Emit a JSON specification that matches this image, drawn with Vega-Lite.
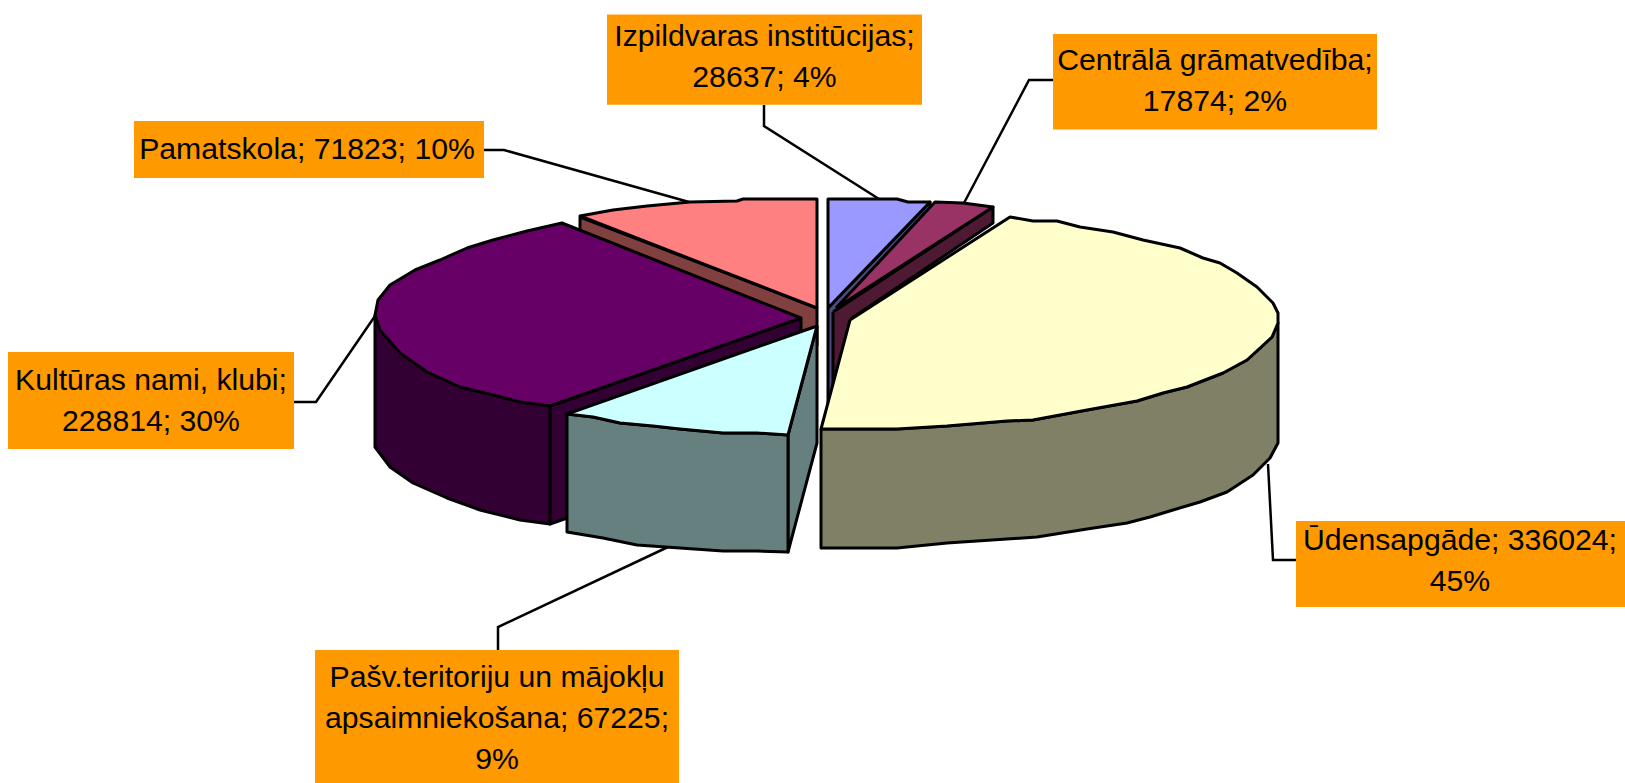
{"$schema":"https://vega.github.io/schema/vega-lite/v6.json","width":1625,"height":783,"padding":0,"autosize":{"type":"fit","contains":"padding"},"background":"white","view":{"stroke":null},
"datasets":{
"leaders":[
{"slice":"Izpildvaras institūcijas","o":1,"px":764,"py":105},{"slice":"Izpildvaras institūcijas","o":2,"px":764,"py":126},{"slice":"Izpildvaras institūcijas","o":3,"px":879,"py":199},
{"slice":"Centrālā grāmatvedība","o":1,"px":1053,"py":80},{"slice":"Centrālā grāmatvedība","o":2,"px":1029,"py":80},{"slice":"Centrālā grāmatvedība","o":3,"px":964,"py":203},
{"slice":"Pamatskola","o":1,"px":484,"py":150},{"slice":"Pamatskola","o":2,"px":504,"py":150},{"slice":"Pamatskola","o":3,"px":689,"py":202},
{"slice":"Kultūras nami, klubi","o":1,"px":294,"py":402},{"slice":"Kultūras nami, klubi","o":2,"px":316,"py":402},{"slice":"Kultūras nami, klubi","o":3,"px":375,"py":316},
{"slice":"Ūdensapgāde","o":1,"px":1296,"py":560},{"slice":"Ūdensapgāde","o":2,"px":1273,"py":560},{"slice":"Ūdensapgāde","o":3,"px":1268,"py":464},
{"slice":"Pašv.teritoriju","o":1,"px":498,"py":650},{"slice":"Pašv.teritoriju","o":2,"px":498,"py":627},{"slice":"Pašv.teritoriju","o":3,"px":668,"py":547}
],
"labels":[
{"label":"Izpildvaras institūcijas;\n28637; 4%","x0":607,"x1":922,"y0":14.5,"y1":104.7,"cx":764.5,"cy":37},
{"label":"Centrālā grāmatvedība;\n17874; 2%","x0":1053,"x1":1377,"y0":34,"y1":129.5,"cx":1215,"cy":61},
{"label":"Pamatskola; 71823; 10%","x0":134,"x1":484,"y0":121,"y1":178,"cx":307,"cy":150},
{"label":"Kultūras nami, klubi;\n228814; 30%","x0":8,"x1":294,"y0":352,"y1":449,"cx":151,"cy":381},
{"label":"Ūdensapgāde; 336024;\n45%","x0":1296,"x1":1625,"y0":521,"y1":607,"cx":1460,"cy":541},
{"label":"Pašv.teritoriju un mājokļu\napsaimniekošana; 67225;\n9%","x0":315,"x1":679,"y0":650,"y1":783,"cx":497,"cy":678}
],
"faces":[
{"face":"a brown","o":1,"px":580,"py":217},{"face":"a brown","o":2,"px":817,"py":308},{"face":"a brown","o":3,"px":817,"py":345},{"face":"a brown","o":4,"px":580,"py":254},{"face":"a brown","o":5,"px":580,"py":217},
{"face":"b pink","o":1,"px":817,"py":308},{"face":"b pink","o":2,"px":580,"py":216},{"face":"b pink","o":3,"px":613,"py":210},{"face":"b pink","o":4,"px":647,"py":206},{"face":"b pink","o":5,"px":690,"py":202},{"face":"b pink","o":6,"px":737,"py":201},{"face":"b pink","o":7,"px":743,"py":199},{"face":"b pink","o":8,"px":817,"py":199},{"face":"b pink","o":9,"px":817,"py":308},
{"face":"c lavside","o":1,"px":828,"py":308},{"face":"c lavside","o":2,"px":930,"py":202},{"face":"c lavside","o":3,"px":930,"py":250},{"face":"c lavside","o":4,"px":828,"py":413},{"face":"c lavside","o":5,"px":828,"py":308},
{"face":"d lav","o":1,"px":828,"py":308},{"face":"d lav","o":2,"px":828,"py":199},{"face":"d lav","o":3,"px":877,"py":199},{"face":"d lav","o":4,"px":897,"py":199},{"face":"d lav","o":5,"px":908,"py":202},{"face":"d lav","o":6,"px":930,"py":202},{"face":"d lav","o":7,"px":828,"py":308},
{"face":"e magside","o":1,"px":833,"py":312},{"face":"e magside","o":2,"px":993,"py":207},{"face":"e magside","o":3,"px":993,"py":223},{"face":"e magside","o":4,"px":852,"py":318},{"face":"e magside","o":5,"px":833,"py":410},{"face":"e magside","o":6,"px":833,"py":312},
{"face":"f mag","o":1,"px":836,"py":308},{"face":"f mag","o":2,"px":935,"py":202},{"face":"f mag","o":3,"px":963,"py":203},{"face":"f mag","o":4,"px":993,"py":207},{"face":"f mag","o":5,"px":836,"py":308},
{"face":"g purpinner","o":1,"px":550,"py":406},{"face":"g purpinner","o":2,"px":801,"py":318},{"face":"g purpinner","o":3,"px":801,"py":437},{"face":"g purpinner","o":4,"px":550,"py":524},{"face":"g purpinner","o":5,"px":550,"py":406},
{"face":"h purpouter","o":1,"px":375,"py":315},{"face":"h purpouter","o":2,"px":375,"py":447},{"face":"h purpouter","o":3,"px":390,"py":467},{"face":"h purpouter","o":4,"px":413,"py":483},{"face":"h purpouter","o":5,"px":447,"py":498},{"face":"h purpouter","o":6,"px":480,"py":510},{"face":"h purpouter","o":7,"px":520,"py":520},{"face":"h purpouter","o":8,"px":550,"py":524},{"face":"h purpouter","o":9,"px":550,"py":406},{"face":"h purpouter","o":10,"px":375,"py":315},
{"face":"i purp","o":1,"px":801,"py":318},{"face":"i purp","o":2,"px":562,"py":223},{"face":"i purp","o":3,"px":527,"py":231},{"face":"i purp","o":4,"px":493,"py":240},{"face":"i purp","o":5,"px":467,"py":248},{"face":"i purp","o":6,"px":440,"py":260},{"face":"i purp","o":7,"px":415,"py":270},{"face":"i purp","o":8,"px":390,"py":285},{"face":"i purp","o":9,"px":378,"py":300},{"face":"i purp","o":10,"px":375,"py":315},{"face":"i purp","o":11,"px":380,"py":330},{"face":"i purp","o":12,"px":400,"py":353},{"face":"i purp","o":13,"px":427,"py":372},{"face":"i purp","o":14,"px":460,"py":387},{"face":"i purp","o":15,"px":493,"py":395},{"face":"i purp","o":16,"px":520,"py":402},{"face":"i purp","o":17,"px":550,"py":406},{"face":"i purp","o":18,"px":801,"py":318},
{"face":"j tealside","o":1,"px":788,"py":435},{"face":"j tealside","o":2,"px":817,"py":326},{"face":"j tealside","o":3,"px":817,"py":443},{"face":"j tealside","o":4,"px":788,"py":552},{"face":"j tealside","o":5,"px":788,"py":435},
{"face":"k teal","o":1,"px":567,"py":414},{"face":"k teal","o":2,"px":593,"py":417},{"face":"k teal","o":3,"px":620,"py":423},{"face":"k teal","o":4,"px":653,"py":426},{"face":"k teal","o":5,"px":680,"py":429},{"face":"k teal","o":6,"px":723,"py":433},{"face":"k teal","o":7,"px":757,"py":433},{"face":"k teal","o":8,"px":788,"py":435},{"face":"k teal","o":9,"px":788,"py":552},{"face":"k teal","o":10,"px":757,"py":551},{"face":"k teal","o":11,"px":723,"py":551},{"face":"k teal","o":12,"px":680,"py":548},{"face":"k teal","o":13,"px":637,"py":545},{"face":"k teal","o":14,"px":603,"py":538},{"face":"k teal","o":15,"px":567,"py":532},{"face":"k teal","o":16,"px":567,"py":414},
{"face":"l cyan","o":1,"px":817,"py":326},{"face":"l cyan","o":2,"px":567,"py":414},{"face":"l cyan","o":3,"px":593,"py":417},{"face":"l cyan","o":4,"px":620,"py":423},{"face":"l cyan","o":5,"px":653,"py":426},{"face":"l cyan","o":6,"px":680,"py":429},{"face":"l cyan","o":7,"px":723,"py":433},{"face":"l cyan","o":8,"px":757,"py":433},{"face":"l cyan","o":9,"px":788,"py":435},{"face":"l cyan","o":10,"px":817,"py":326},
{"face":"m olive","o":1,"px":821,"py":429},{"face":"m olive","o":2,"px":897,"py":429},{"face":"m olive","o":3,"px":947,"py":426},{"face":"m olive","o":4,"px":1007,"py":421},{"face":"m olive","o":5,"px":1033,"py":420},{"face":"m olive","o":6,"px":1087,"py":410},{"face":"m olive","o":7,"px":1137,"py":401},{"face":"m olive","o":8,"px":1163,"py":393},{"face":"m olive","o":9,"px":1187,"py":387},{"face":"m olive","o":10,"px":1223,"py":373},{"face":"m olive","o":11,"px":1247,"py":360},{"face":"m olive","o":12,"px":1272,"py":337},{"face":"m olive","o":13,"px":1278,"py":323},{"face":"m olive","o":14,"px":1278,"py":443},{"face":"m olive","o":15,"px":1270,"py":458},{"face":"m olive","o":16,"px":1253,"py":475},{"face":"m olive","o":17,"px":1227,"py":492},{"face":"m olive","o":18,"px":1200,"py":502},{"face":"m olive","o":19,"px":1173,"py":510},{"face":"m olive","o":20,"px":1150,"py":517},{"face":"m olive","o":21,"px":1127,"py":523},{"face":"m olive","o":22,"px":1087,"py":529},{"face":"m olive","o":23,"px":1037,"py":537},{"face":"m olive","o":24,"px":1007,"py":539},{"face":"m olive","o":25,"px":947,"py":543},{"face":"m olive","o":26,"px":897,"py":548},{"face":"m olive","o":27,"px":821,"py":548},{"face":"m olive","o":28,"px":821,"py":429},
{"face":"n cream","o":1,"px":850,"py":320},{"face":"n cream","o":2,"px":1010,"py":217},{"face":"n cream","o":3,"px":1033,"py":221},{"face":"n cream","o":4,"px":1057,"py":221},{"face":"n cream","o":5,"px":1080,"py":227},{"face":"n cream","o":6,"px":1113,"py":232},{"face":"n cream","o":7,"px":1143,"py":240},{"face":"n cream","o":8,"px":1180,"py":248},{"face":"n cream","o":9,"px":1203,"py":258},{"face":"n cream","o":10,"px":1220,"py":263},{"face":"n cream","o":11,"px":1237,"py":273},{"face":"n cream","o":12,"px":1257,"py":287},{"face":"n cream","o":13,"px":1273,"py":303},{"face":"n cream","o":14,"px":1278,"py":313},{"face":"n cream","o":15,"px":1278,"py":323},{"face":"n cream","o":16,"px":1272,"py":337},{"face":"n cream","o":17,"px":1247,"py":360},{"face":"n cream","o":18,"px":1223,"py":373},{"face":"n cream","o":19,"px":1187,"py":387},{"face":"n cream","o":20,"px":1163,"py":393},{"face":"n cream","o":21,"px":1137,"py":401},{"face":"n cream","o":22,"px":1087,"py":410},{"face":"n cream","o":23,"px":1033,"py":420},{"face":"n cream","o":24,"px":1007,"py":421},{"face":"n cream","o":25,"px":947,"py":426},{"face":"n cream","o":26,"px":897,"py":429},{"face":"n cream","o":27,"px":821,"py":429},{"face":"n cream","o":28,"px":850,"py":320}
]},
"layer":[
{"data":{"name":"leaders"},"mark":{"type":"line","stroke":"#000","strokeWidth":2.5},"encoding":{"x":{"field":"px","type":"quantitative","scale":{"domain":[0,1625]},"axis":null},"y":{"field":"py","type":"quantitative","scale":{"domain":[783,0]},"axis":null},"detail":{"field":"slice"},"order":{"field":"o"}}},
{"data":{"name":"faces"},"mark":{"type":"line","filled":true,"stroke":"#000","strokeWidth":3,"strokeJoin":"round"},"encoding":{"x":{"field":"px","type":"quantitative","scale":{"domain":[0,1625]},"axis":null},"y":{"field":"py","type":"quantitative","scale":{"domain":[783,0]},"axis":null},"order":{"field":"o"},"fill":{"field":"face","type":"nominal","legend":null,"scale":{"domain":["a brown","b pink","c lavside","d lav","e magside","f mag","g purpinner","h purpouter","i purp","j tealside","k teal","l cyan","m olive","n cream"],"range":["#804040","#FF8080","#4C4C80","#9999FF","#4D1933","#993366","#330033","#330033","#660066","#668080","#668080","#CCFFFF","#808066","#FFFFCC"]}}}},
{"data":{"name":"labels"},"mark":{"type":"rect","fill":"#FF9900"},"encoding":{"x":{"field":"x0","type":"quantitative","scale":{"domain":[0,1625]},"axis":null},"x2":{"field":"x1"},"y":{"field":"y0","type":"quantitative","scale":{"domain":[783,0]},"axis":null},"y2":{"field":"y1"}}},
{"data":{"name":"labels"},"mark":{"type":"text","font":"Liberation Sans","fontSize":30.2,"lineBreak":"\n","lineHeight":41,"align":"center","baseline":"middle","color":"#000"},"encoding":{"x":{"field":"cx","type":"quantitative","scale":{"domain":[0,1625]},"axis":null},"y":{"field":"cy","type":"quantitative","scale":{"domain":[783,0]},"axis":null},"text":{"field":"label"}}}
]}
